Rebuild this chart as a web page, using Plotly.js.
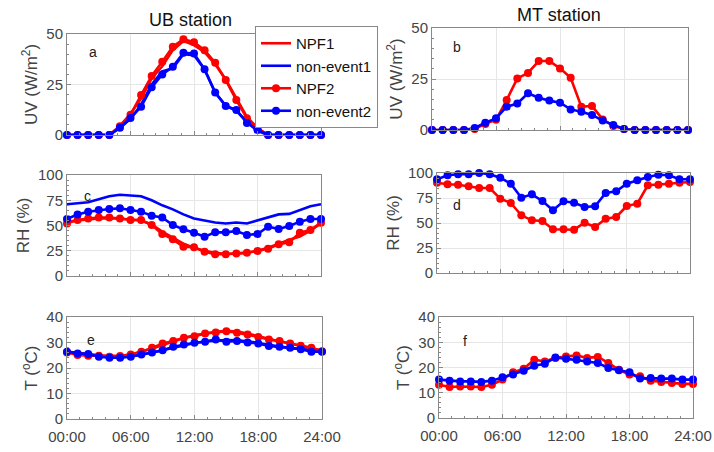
<!DOCTYPE html>
<html><head><meta charset="utf-8">
<script src="https://cdn.plot.ly/plotly-3.0.1.min.js"></script>
<style>html,body{margin:0;padding:0;background:#fff}#chart{width:714px;height:452px}</style>
</head><body><div id="chart"></div>
<script>
const hours = [0,1,2,3,4,5,6,7,8,9,10,11,12,13,14,15,16,17,18,19,20,21,22,23,24];
const xTickVals = [0,6,12,18,24];
const xTickText = ['00:00','06:00','12:00','18:00','24:00'];
const seriesNames = ['NPF1','non-event1','NPF2','non-event2'];

// UB station
const ubUV_NPF1 = [0,0,0,0,0,4.5,10.5,18,28,34,42,46.5,44.5,41,35,27.5,18,9,3.5,0,0,0,0,0,0];
const ubUV_non1 = [0,0,0,0,0,3.5,8,15,25,31.5,33,40,39.5,32.5,21,14.5,12,6.5,2,0,0,0,0,0,0];
const ubUV_NPF2 = [0,0,0,0,0,4.3,10,19.8,29.2,36.3,43.7,47.4,45.9,42,35.8,27.2,17.3,8.3,3,0,0,0,0,0,0];
const ubUV_non2 = [0,0,0,0,0,3.6,8.4,14,23.6,30,33.8,40.7,40.4,32.5,21,14.4,12.4,6,2.5,0,0,0,0,0,0];

const ubRH_NPF1 = [54,55,56,57,57,57,56,55,51,44,38,32,28,25,23,22,22,23,25,28,32,36,39,45,52];
const ubRH_non1 = [71,72,73,76,79,80.5,80,79,75,70,66,61,57,55,53,52,53,52,55,58,61,61.5,65,69,71];
const ubRH_NPF2 = [52.1,55.4,57,57.8,57.8,57,55.4,55.4,50.5,41.6,36.3,29,28.4,24,21.5,21.5,22.4,23.1,24.8,27,31.4,33.3,42.9,45.5,52.8];
const ubRH_non2 = [56.4,61,63.7,65.3,66.3,67,65.3,63.7,59.7,58,50.5,46.2,42.9,38.9,43.2,43.2,44.5,40.6,41.6,48.8,46.5,49.5,53.8,56.4,56.4];

const ubT_NPF1 = [26.5,26,25.5,25,24.8,24.8,25.3,26.3,27.5,29,30.5,31.8,32.8,33.6,34.2,34.6,34.3,33.5,32.4,31.3,30.4,29.6,28.7,27.8,26.8];
const ubT_non1 = [26.4,25.8,25.3,24.8,24.4,24.3,24.5,25.2,26,27,28,29,29.8,30.4,30.8,31,30.9,30.5,29.8,29,28.4,27.9,27.4,26.9,26.5];
const ubT_NPF2 = [26.1,25.1,24.8,24.8,24.4,24.7,25.3,26.4,27.9,29.6,30.6,31.9,32.5,33.5,33.9,34.4,33.8,33.1,32.2,31.2,30.6,29.6,28.7,27.9,26.6];
const ubT_non2 = [26.4,25.7,25.5,24.4,24,24,24.4,25.3,26.1,27,28.3,29.2,29.9,30.3,31.2,30.3,30.6,30,29.6,28.6,28.3,27.9,27.4,26.4,26.4];

// MT station
const mtUV_NPF2 = [0,0,0,0,0.5,3,5,14.7,25.3,28,33.8,33.8,30.2,25.6,11.4,11.8,5.2,2,0.5,0,0,0,0,0,0];
const mtUV_non2 = [0,0,0,0,1,3.6,5.7,11.4,13,18,15.8,14.4,13.4,10.1,9,7.4,4.6,2.5,0.5,0,0,0,0,0,0];
const mtRH_NPF2 = [90.3,88.7,88.3,86.7,85,85,74.3,70,57.7,52.7,52,43.7,43.7,43.3,50.3,46,54.3,56,67,69.3,87.7,88.3,89.3,90.3,91];
const mtRH_non2 = [93.7,97.7,98.7,98.7,100,98.7,95.3,89.3,75.3,78.7,72,62.7,71.7,70.3,66,66.7,80,81.7,89.3,92.7,96,98.3,97.7,93.7,93.7];
const mtT_NPF2 = [13.2,12.3,12.5,12.5,12.3,13.2,15.2,18.1,19.5,23.1,22.4,23.8,24.4,24.8,23.8,24.2,21.8,19.1,17.2,16.5,14.8,14.3,13.9,13.5,13.5];
const mtT_non2 = [15.2,14.8,14.5,14.5,14.3,14.8,16.1,17.2,18.7,20.7,21.5,24,23.5,23.1,22.4,21.8,19.8,18.9,18.1,15.6,15.8,15.6,15.6,15.2,15.2];

const RED = '#ff0000', BLUE = '#0000ff';
const LW = 2.6, MS = 8;

function lineTrace(y, color, name, ax, show) {
  return {x: hours, y: y, type: 'scatter', mode: 'lines', name: name, showlegend: show,
    line: {color: color, width: LW}, xaxis: 'x' + ax, yaxis: 'y' + ax, cliponaxis: false, hoverinfo: 'skip'};
}
function markTrace(y, color, name, ax, show) {
  return {x: hours, y: y, type: 'scatter', mode: 'lines+markers', name: name, showlegend: show,
    line: {color: color, width: LW}, marker: {color: color, size: MS},
    xaxis: 'x' + ax, yaxis: 'y' + ax, cliponaxis: false, hoverinfo: 'skip'};
}

const traces = [
  lineTrace(ubUV_NPF1, RED, seriesNames[0], '', true),
  lineTrace(ubUV_non1, BLUE, seriesNames[1], '', true),
  markTrace(ubUV_NPF2, RED, seriesNames[2], '', true),
  markTrace(ubUV_non2, BLUE, seriesNames[3], '', true),
  markTrace(mtUV_NPF2, RED, seriesNames[2], '2', false),
  markTrace(mtUV_non2, BLUE, seriesNames[3], '2', false),
  lineTrace(ubRH_NPF1, RED, seriesNames[0], '3', false),
  lineTrace(ubRH_non1, BLUE, seriesNames[1], '3', false),
  markTrace(ubRH_NPF2, RED, seriesNames[2], '3', false),
  markTrace(ubRH_non2, BLUE, seriesNames[3], '3', false),
  markTrace(mtRH_NPF2, RED, seriesNames[2], '4', false),
  markTrace(mtRH_non2, BLUE, seriesNames[3], '4', false),
  lineTrace(ubT_NPF1, RED, seriesNames[0], '5', false),
  lineTrace(ubT_non1, BLUE, seriesNames[1], '5', false),
  markTrace(ubT_NPF2, RED, seriesNames[2], '5', false),
  markTrace(ubT_non2, BLUE, seriesNames[3], '5', false),
  markTrace(mtT_NPF2, RED, seriesNames[2], '6', false),
  markTrace(mtT_non2, BLUE, seriesNames[3], '6', false)
];

const W = 714, H = 452;
function xd(l, r) { return [l / W, r / W]; }
function yd(t, b) { return [1 - b / H, 1 - t / H]; }
const FONT = 'Liberation Sans, Arial, sans-serif';
const GRAY = '#444444';

function xAxis(dom, anchor, showLabels) {
  return {domain: dom, anchor: anchor, range: [0, 24], tickvals: xTickVals, ticktext: xTickText,
    showticklabels: showLabels, ticks: 'inside', ticklen: 4, tickcolor: '#888', showgrid: true,
    gridcolor: '#e6e6e6', gridwidth: 1, showline: true, linecolor: '#888', linewidth: 1, mirror: true,
    zeroline: false, tickfont: {family: FONT, size: 15, color: GRAY}, ticklabelstandoff: 4,
    minor: {dtick: 1.2, ticks: 'inside', ticklen: 2, tickcolor: '#888', showgrid: false}};
}
function yAxis(dom, anchor, range, dtick, minorDt, title) {
  return {domain: dom, anchor: anchor, range: range, dtick: dtick, tick0: 0,
    ticks: 'inside', ticklen: 4, tickcolor: '#888', showgrid: true, gridcolor: '#e6e6e6', gridwidth: 1,
    showline: true, linecolor: '#888', linewidth: 1, mirror: true, zeroline: false,
    tickfont: {family: FONT, size: 15, color: GRAY},
    title: {text: title, font: {family: FONT, size: 17, color: GRAY}, standoff: 4},
    minor: {dtick: minorDt, ticks: 'inside', ticklen: 2, tickcolor: '#888', showgrid: false}};
}

const uvTitle = 'UV (W/m<sup>2</sup>)';
const rhTitle = 'RH (%)';
const tTitle = 'T (<sup>o</sup>C)';

const layout = {
  width: W, height: H, margin: {l: 0, r: 0, t: 0, b: 0},
  paper_bgcolor: '#fff', plot_bgcolor: '#fff', showlegend: true,
  font: {family: FONT},
  xaxis: xAxis(xd(67, 321), 'y', false),
  yaxis: yAxis(yd(34, 135), 'x', [0, 50], 25, 5, uvTitle),
  xaxis2: xAxis(xd(432, 688), 'y2', false),
  yaxis2: yAxis(yd(28, 130), 'x2', [0, 50], 25, 5, uvTitle),
  xaxis3: xAxis(xd(67, 321), 'y3', false),
  yaxis3: yAxis(yd(175, 276), 'x3', [0, 100], 25, 5, rhTitle),
  xaxis4: xAxis(xd(437, 690), 'y4', false),
  yaxis4: yAxis(yd(173, 273), 'x4', [0, 100], 25, 5, rhTitle),
  xaxis5: xAxis(xd(67, 322), 'y5', true),
  yaxis5: yAxis(yd(317, 419), 'x5', [0, 40], 10, 2, tTitle),
  xaxis6: xAxis(xd(439, 693), 'y6', true),
  yaxis6: yAxis(yd(317, 418), 'x6', [0, 40], 10, 2, tTitle),
  legend: {x: 255 / W, y: 1 - 26 / H, xanchor: 'left', yanchor: 'top', bgcolor: '#fff',
    bordercolor: '#888', borderwidth: 1, font: {family: FONT, size: 15, color: '#111'},
    tracegroupgap: 0, itemwidth: 30},
  annotations: [
    {text: 'UB station', xref: 'paper', yref: 'paper', x: 190 / W, y: 1 - 20 / H, xanchor: 'center', yanchor: 'middle',
      showarrow: false, font: {family: FONT, size: 18, color: '#111'}},
    {text: 'MT station', xref: 'paper', yref: 'paper', x: 559 / W, y: 1 - 15 / H, xanchor: 'center', yanchor: 'middle',
      showarrow: false, font: {family: FONT, size: 18, color: '#111'}},
    {text: 'a', xref: 'x', yref: 'y', x: 2.5, y: 41, showarrow: false, font: {family: FONT, size: 14, color: '#222'}},
    {text: 'b', xref: 'x2', yref: 'y2', x: 2.3, y: 40.7, showarrow: false, font: {family: FONT, size: 14, color: '#222'}},
    {text: 'c', xref: 'x3', yref: 'y3', x: 1.9, y: 79, showarrow: false, font: {family: FONT, size: 14, color: '#222'}},
    {text: 'd', xref: 'x4', yref: 'y4', x: 1.9, y: 68, showarrow: false, font: {family: FONT, size: 14, color: '#222'}},
    {text: 'e', xref: 'x5', yref: 'y5', x: 2.3, y: 31, showarrow: false, font: {family: FONT, size: 14, color: '#222'}},
    {text: 'f', xref: 'x6', yref: 'y6', x: 2.5, y: 30.6, showarrow: false, font: {family: FONT, size: 14, color: '#222'}}
  ]
};

Plotly.newPlot('chart', traces, layout, {displayModeBar: false, staticPlot: true});
</script>
</body></html>
